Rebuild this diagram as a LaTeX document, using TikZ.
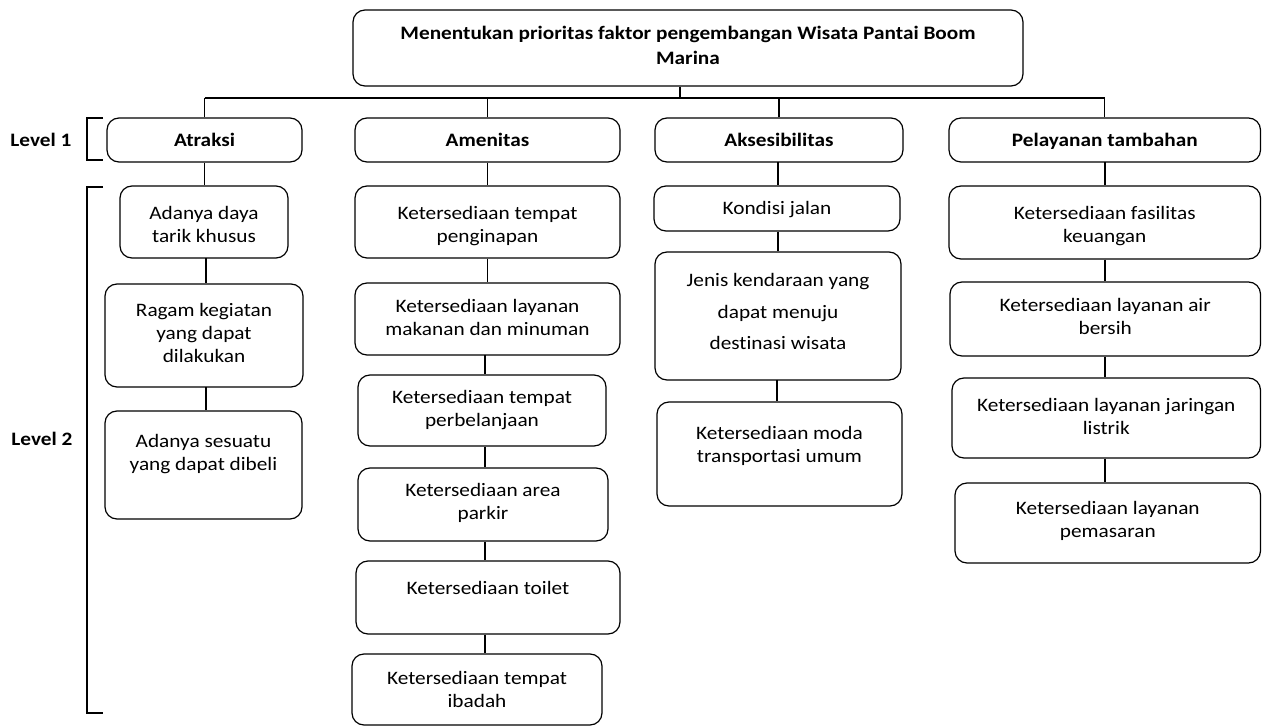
\documentclass[tikz,border=0pt]{standalone}
\usepackage{fontspec}
\setmainfont[FakeStretch=1.12, Ligatures=NoCommon]{Carlito}
\usetikzlibrary{fit}
\tikzset{
  box/.style={draw, rounded corners=12pt, line width=1.2pt, inner sep=0pt},
  txt/.style={align=center, font=\fontsize{19}{23}\selectfont, inner sep=0pt, yshift=-2pt},
  btxt/.style={align=center, font=\fontsize{19}{25}\selectfont\bfseries, inner sep=0pt, yshift=-2pt},
  ln/.style={line width=1.2pt}
}
\newcommand\bx[8]{%
  \node[box, fit={(#2,#3)(#4,#5)}] (#1) {};
  \node[#8] (#1t) at ({(#2+#4)/2},#6) {\strut #7\strut};}
\begin{document}
\begin{tikzpicture}[x=1pt,y=-1pt]
\useasboundingbox (0,0) rectangle (1262,727);
% top
\bx{top}{353}{10}{1023}{86}{45.5}{Menentukan prioritas faktor pengembangan Wisata Pantai Boom\\Marina}{btxt}
% level 1
\bx{at}{107}{118}{302}{162}{140}{Atraksi}{btxt}
\bx{am}{355}{118}{620}{162}{140}{Amenitas}{btxt}
\bx{ak}{655}{118}{903}{162}{140}{Aksesibilitas}{btxt}
\bx{pt}{949}{118}{1260.5}{162}{140}{Pelayanan tambahan}{btxt}
% tree connectors
\coordinate (tj) at (680,98);
\draw[ln] (tj |- top.south) -- (tj);
\draw[ln] (at.north |- tj) -- (pt.north |- tj);
\foreach \n in {at,am,ak,pt} \draw[ln] (\n.north) -- (\n.north |- tj);
% Atraksi
\bx{a1}{120}{186}{288}{258}{224.5}{Adanya daya\\tarik khusus}{txt}
\bx{a2}{105}{284}{303}{387}{333}{Ragam kegiatan\\yang dapat\\dilakukan}{txt}
\bx{a3}{105}{411}{302}{519}{452}{Adanya sesuatu\\yang dapat dibeli}{txt}
% Amenitas
\bx{m1}{355}{186}{620}{258}{224.5}{Ketersediaan tempat\\penginapan}{txt}
\bx{m2}{355}{283}{620}{355}{317}{Ketersediaan layanan\\makanan dan minuman}{txt}
\bx{m3}{358}{375}{606}{446}{408.5}{Ketersediaan tempat\\perbelanjaan}{txt}
\bx{m4}{358}{468}{608}{541}{501.5}{Ketersediaan area\\parkir}{txt}
\bx{m5}{356}{561}{620}{634}{588}{Ketersediaan toilet}{txt}
\bx{m6}{352}{654}{602}{725}{689.5}{Ketersediaan tempat\\ibadah}{txt}
% Aksesibilitas
\bx{k1}{654}{186}{900}{231}{208}{Kondisi jalan}{txt}
\bx{k2}{655}{252}{901}{380}{311.5}{Jenis kendaraan yang\\[8.5pt]dapat menuju\\[8.5pt]destinasi wisata}{txt}
\bx{k3}{657}{402}{902}{506}{444.5}{Ketersediaan moda\\transportasi umum}{txt}
% Pelayanan tambahan
\bx{p1}{949}{186}{1260.5}{259}{224}{Ketersediaan fasilitas\\keuangan}{txt}
\bx{p2}{950}{282}{1260.5}{356}{316.5}{Ketersediaan layanan air\\bersih}{txt}
\bx{p3}{952}{378}{1260.5}{458}{416.5}{Ketersediaan layanan jaringan\\listrik}{txt}
\bx{p4}{955}{483}{1260.5}{563}{519.5}{Ketersediaan layanan\\pemasaran}{txt}
% vertical connectors
\draw[ln] (at.south) -- (at.south |- a1.north);
\draw[ln] (206,258) coordinate (c1) -- (c1 |- a2.north);
\draw[ln] (206,387) coordinate (c2) -- (c2 |- a3.north);
\draw[ln] (am.south) -- (am.south |- m1.north);
\draw[ln] (m1.south) -- (m1.south |- m2.north);
\draw[ln] (485,355) coordinate (c3) -- (c3 |- m3.north);
\draw[ln] (c3 |- m3.south) -- (c3 |- m4.north);
\draw[ln] (c3 |- m4.south) -- (c3 |- m5.north);
\draw[ln] (c3 |- m5.south) -- (c3 |- m6.north);
\draw[ln] (778,162) coordinate (c4) -- (c4 |- k1.north);
\draw[ln] (c4 |- k1.south) -- (c4 |- k2.north);
\draw[ln] (777,380) coordinate (c5) -- (c5 |- k3.north);
\draw[ln] (1105,162) coordinate (c6) -- (c6 |- p1.north);
\draw[ln] (c6 |- p1.south) -- (c6 |- p2.north);
\draw[ln] (c6 |- p2.south) -- (c6 |- p3.north);
\draw[ln] (c6 |- p3.south) -- (c6 |- p4.north);
% level labels and brackets
\node[btxt] (l1) at (41,140) {\strut Level 1\strut};
\node[btxt] (l2) at (42,439) {\strut Level 2\strut};
\draw[ln] (103,118) -- (87,118) -- (87,160) -- (103,160);
\draw[ln] (103,187) -- (87,187) -- (87,713) -- (103,713);
\end{tikzpicture}
\end{document}
